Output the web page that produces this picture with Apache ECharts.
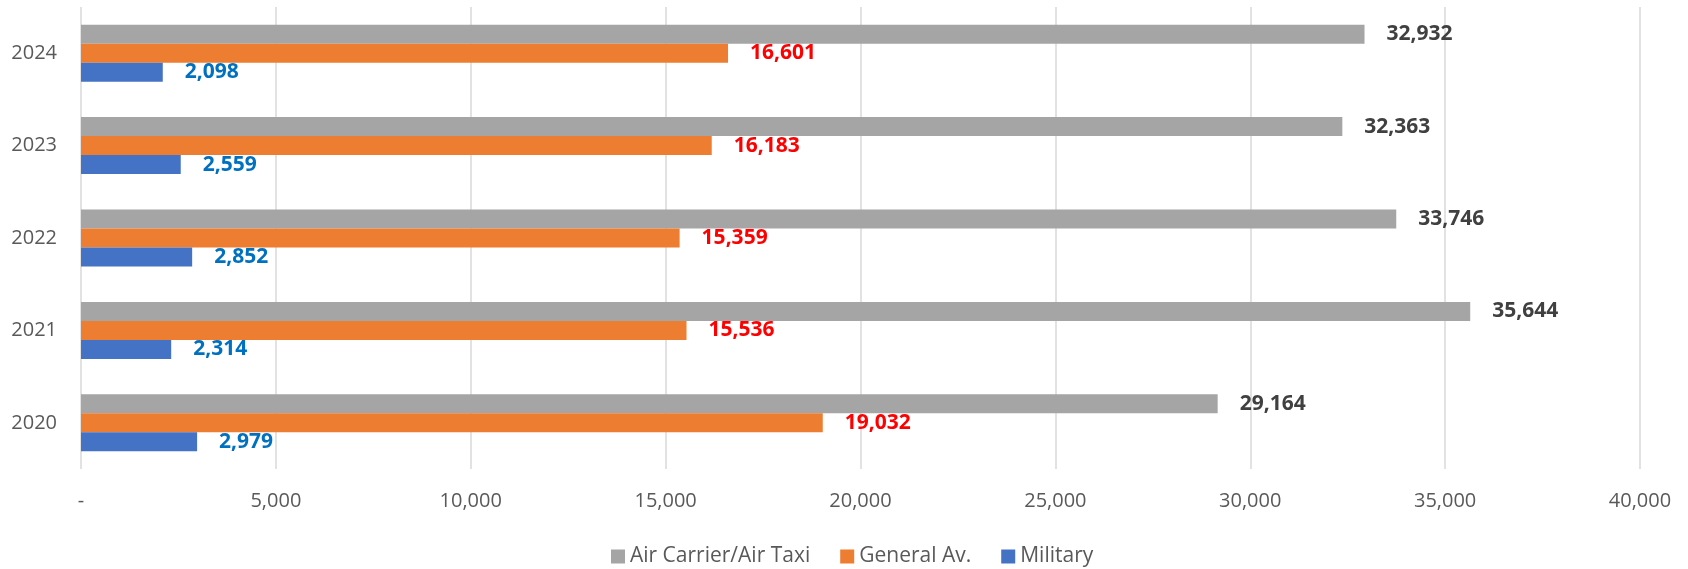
<!DOCTYPE html>
<html>
<head>
<meta charset="utf-8">
<script src="https://cdn.jsdelivr.net/npm/echarts@6/dist/echarts.min.js"></script>
<style>
html,body{margin:0;padding:0;background:#fff;}
#c{width:1688px;height:569px;}
</style>
</head>
<body>
<div id="c"></div>
<script>
var categories = ['2020', '2021', '2022', '2023', '2024'];
var airCarrier = [29164, 35644, 33746, 32363, 32932];
var generalAv = [19032, 15536, 15359, 16183, 16601];
var military = [2979, 2314, 2852, 2559, 2098];
var seriesNames = ['Air Carrier/Air Taxi', 'General Av.', 'Military'];
var xTicks = { min: 0, max: 40000, interval: 5000 };

var FONT = 'Open Sans';
function fmt(v) { return v === 0 ? '-' : Number(v).toLocaleString('en-US'); }

function mkSeries(name, data, color, labelColor) {
  return {
    name: name,
    type: 'bar',
    data: data,
    barWidth: 19,
    barGap: '0%',
    itemStyle: { color: color },
    label: {
      show: true,
      position: 'right',
      distance: 22,
      color: labelColor,
      fontFamily: FONT,
      fontWeight: 'bold',
      fontSize: 21,
      formatter: function (p) { return fmt(p.value); }
    }
  };
}

var chart = echarts.init(document.getElementById('c'));
chart.setOption({
  animation: false,
  grid: { left: 81, right: 48, top: 7, bottom: 100, containLabel: false },
  legend: {
    data: seriesNames,
    bottom: -3,
    left: 606,
    itemWidth: 14,
    itemHeight: 14,
    itemGap: 30,
    icon: 'rect',
    textStyle: { fontFamily: FONT, fontSize: 21, color: '#595959' }
  },
  xAxis: {
    type: 'value',
    min: xTicks.min,
    max: xTicks.max,
    interval: xTicks.interval,
    axisLine: { show: false },
    axisTick: { show: false },
    splitLine: { show: true, lineStyle: { color: '#D9D9D9', width: 1.5 } },
    axisLabel: {
      margin: 22,
      fontFamily: FONT,
      fontSize: 20,
      color: '#595959',
      formatter: function (v) { return fmt(v); }
    }
  },
  yAxis: {
    type: 'category',
    data: categories,
    axisLine: { show: false },
    axisTick: { show: false },
    splitLine: { show: false },
    axisLabel: { margin: 24, fontFamily: FONT, fontSize: 20, color: '#595959' }
  },
  series: [
    mkSeries(seriesNames[0], airCarrier, '#A5A5A5', '#404040'),
    mkSeries(seriesNames[1], generalAv, '#ED7D31', '#FF0000'),
    mkSeries(seriesNames[2], military, '#4472C4', '#0070C0')
  ]
});
</script>
</body>
</html>
